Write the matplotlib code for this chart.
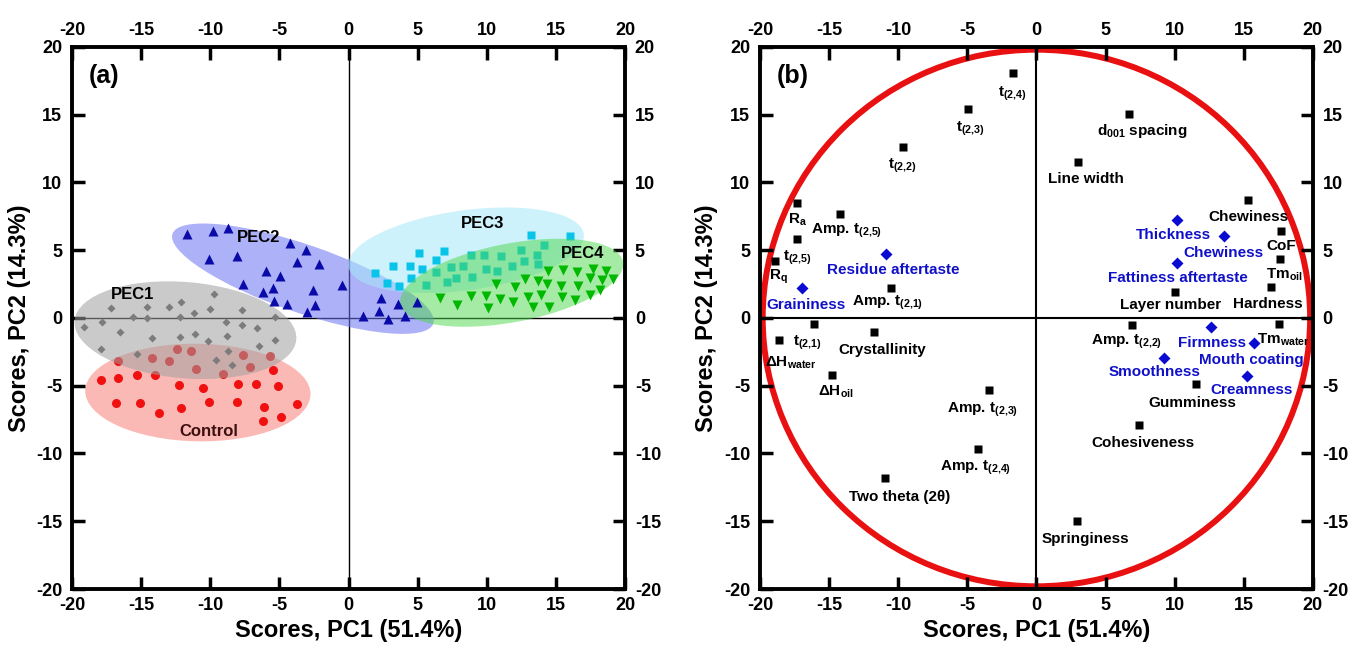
import matplotlib
matplotlib.use('Agg')
import matplotlib.pyplot as plt
from matplotlib.patches import Ellipse, Circle

# ---------------- data: panel (a) scores ----------------
ctrl_x = [-16.7, -14.2, -13.0, -12.4, -11.4, -11.0, -9.1, -7.6, -7.1, -5.65, -5.5,
          -17.9, -16.7, -15.3, -14.0, -12.3, -10.5, -8.0, -6.7, -5.1,
          -16.8, -15.1, -13.7, -12.1, -10.1, -8.1, -6.1, -3.75, -6.2, -4.85]
ctrl_y = [-3.16, -2.96, -3.14, -2.3, -2.43, -3.75, -4.12, -2.72, -3.65, -2.84, -3.87,
          -4.56, -4.44, -4.19, -4.24, -4.98, -5.17, -4.85, -4.85, -5.05,
          -6.27, -6.27, -7.0, -6.64, -6.23, -6.23, -6.57, -6.35, -7.57, -7.33]

pec1_x = [-17.16, -14.6, -13.0, -12.1, -9.7, -10.0, -11.2, -7.7, -15.6, -14.6, -12.2, -5.3,
          -19.1, -17.8, -8.9, -7.7, -6.6, -16.5, -14.2, -12.2, -11.1, -10.2, -8.8, -5.3,
          -6.5, -17.9, -15.3, -8.7, -9.6, -8.4]
pec1_y = [0.76, 0.83, 0.83, 1.15, 1.74, 0.66, 0.39, 0.59, 0.1, -0.02, 0.05, 0.05,
          -0.64, -0.27, -0.27, -0.51, -0.71, -1.0, -1.45, -1.42, -1.18, -1.69, -1.3, -1.62,
          -2.04, -2.28, -2.67, -2.43, -3.09, -3.46]

pec2_x = [-11.7, -9.8, -8.7, -4.24, -3.07, -10.1, -8.1, -3.75, -2.17, -6.0, -4.97, -7.6,
          -6.2, -5.5, -2.58, -0.46, -5.4, -4.44, -2.41, -2.97,
          2.34, 3.56, 4.97, 2.17, 1.07, 2.83, 4.1]
pec2_y = [6.23, 6.4, 6.67, 5.54, 5.05, 4.39, 4.56, 4.14, 3.95, 3.48, 3.09, 2.48,
          1.93, 2.23, 2.06, 2.43, 1.25, 1.0, 0.96, 0.42,
          1.45, 1.03, 1.2, 0.54, 0.15, -0.1, 0.15]

pec3_x = [5.07, 6.9, 6.3, 3.24, 4.41, 5.3, 1.92, 4.53, 2.76, 3.63, 13.2, 16.0,
          8.85, 9.78, 11.06, 12.45, 14.16, 13.6, 12.7, 13.7, 11.85, 10.75, 9.95, 8.31,
          7.4, 6.31, 8.92, 7.77, 7.09, 5.63]
pec3_y = [4.8, 4.93, 4.26, 3.82, 3.82, 3.58, 3.29, 2.92, 2.55, 2.35, 6.1, 6.03,
          4.68, 4.63, 4.58, 5.05, 5.37, 4.63, 4.19, 3.97, 3.82, 3.48, 3.65, 3.82,
          3.73, 3.4, 2.99, 2.92, 2.67, 2.43]

pec4_x = [14.46, 15.5, 16.55, 17.65, 18.6, 12.78, 13.67, 14.33, 15.38, 16.6, 17.45, 18.3,
          19.16, 10.68, 12.04, 18.19, 17.45, 16.36, 15.45, 13.92, 12.99, 11.9, 10.92, 9.97,
          8.85, 6.6, 7.82, 10.07, 13.36, 14.48]
pec4_y = [3.46, 3.53, 3.4, 3.58, 3.48, 2.85, 2.74, 2.48, 2.38, 2.35, 2.92, 2.79,
          2.85, 2.5, 2.3, 2.06, 1.69, 1.32, 1.52, 1.69, 1.57, 1.2, 1.37, 1.62,
          1.62, 1.49, 0.96, 0.71, 0.79, 0.83]

# confidence ellipses: (cx, cy, width, height, angle)
ell_ctrl = (-10.9, -5.5, 16.3, 7.2, -1)
ell_pec1 = (-11.8, -0.9, 16.1, 7.1, -5)
ell_pec2 = (-3.3, 2.9, 20.0, 5.0, -19.4)
ell_pec3 = (8.5, 5.0, 17.2, 5.9, 8)
ell_pec4 = (11.8, 2.6, 16.4, 5.8, 11)

# ---------------- data: panel (b) loadings ----------------
inst_names = [r'$t_{(2{,}4)}$', r'$t_{(2{,}3)}$', r'$t_{(2{,}2)}$', r'R$_a$',
              r'Amp. $t_{(2{,}5)}$', r'$t_{(2{,}5)}$', r'R$_q$', r'Amp. $t_{(2{,}1)}$',
              r'ΔH$_{water}$', r'$t_{(2{,}1)}$', 'Crystallinity', r'ΔH$_{oil}$',
              r'Amp. $t_{(2{,}3)}$', r'Amp. $t_{(2{,}4)}$', 'Two theta (2θ)', 'Springiness',
              'Line width', r'd$_{001}$ spacing', 'Chewiness', 'CoF', r'Tm$_{oil}$',
              'Hardness', 'Layer number', r'Amp. $t_{(2{,}2)}$', r'Tm$_{water}$',
              'Gumminess', 'Cohesiveness']
inst_x = [-1.72, -4.93, -9.64, -17.3, -14.2, -17.3, -18.9, -10.55, -18.6, -16.1,
          -11.76, -14.75, -3.42, -4.21, -10.96, 2.91, 3.02, 6.69,
          15.33, 17.69, 17.62, 16.97, 10.02, 6.93, 17.55, 11.52, 7.44]
inst_y = [18.1, 15.4, 12.6, 8.5, 7.65, 5.83, 4.2, 2.19, -1.62, -0.46,
          -1.05, -4.2, -5.31, -9.67, -11.83, -14.96, 11.49, 15.03,
          8.71, 6.42, 4.33, 2.27, 1.94, -0.52, -0.44, -4.87, -7.9]
# label offsets from marker, pixels (right, down)
inst_off = [(0, 21), (2, 20), (-1, 19), (0, 17), (6, 17), (0, 19), (3, 16), (-3, 15), (12, 23),
            (-6, 19), (8, 18), (3, 17), (-7, 20), (-3, 19), (15, 19), (9, 18), (8, 17),
            (13, 17), (0, 17), (0, 15), (4, 15), (-3, 17), (-4, 13), (-6, 17), (4, 16),
            (-3, 19), (4, 18)]

sens_names = ['Residue aftertaste', 'Graininess', 'Thickness', 'Chewiness',
              'Fattiness aftertaste', 'Firmness', 'Mouth coating', 'Smoothness', 'Creamness']
sens_x = [-10.91, -16.95, 10.14, 13.59, 10.14, 12.63, 15.74, 9.25, 15.25]
sens_y = [4.7, 2.19, 7.23, 6.05, 4.08, -0.64, -1.87, -2.93, -4.28]
sens_off = [(8, 16), (4, 17), (-3, 15), (-1, 17), (1, 15), (1, 16), (-3, 17), (-10, 14), (4, 14)]

# ---------------- fonts ----------------
fam = 'Liberation Sans'
plt.rcParams['font.family'] = [fam, 'DejaVu Sans']
plt.rcParams['font.weight'] = 'bold'
plt.rcParams['axes.labelweight'] = 'bold'
plt.rcParams['axes.unicode_minus'] = False
plt.rcParams['mathtext.fontset'] = 'custom'
plt.rcParams['mathtext.rm'] = fam + ':bold'
plt.rcParams['mathtext.it'] = fam + ':bold'
plt.rcParams['mathtext.bf'] = fam + ':bold'
plt.rcParams['mathtext.default'] = 'rm'

fig = plt.figure(figsize=(13.57, 6.57), dpi=100)
ax1 = fig.add_axes([0.0531, 0.1035, 0.4075, 0.825])
ax2 = fig.add_axes([0.560, 0.1035, 0.4075, 0.825])


def style_axes(ax):
    ax.set_xlim(-20, 20)
    ax.set_ylim(-20, 20)
    ax.set_xticks(range(-20, 21, 5))
    ax.set_yticks(range(-20, 21, 5))
    ax.tick_params(direction='in', top=True, right=True, labeltop=True, labelright=True,
                   length=9, width=2.5, labelsize=13, pad=6)
    ax.tick_params(axis='y', pad=7)
    for s in ax.spines.values():
        s.set_linewidth(2.8)
    ax.set_xlabel('Scores, PC1 (51.4%)', fontsize=17, labelpad=3)
    ax.set_ylabel('Scores, PC2 (14.3%)', fontsize=17, labelpad=4)


def add_ellipse(ax, e, color, alpha, z):
    ax.add_patch(Ellipse((e[0], e[1]), e[2], e[3], angle=e[4], facecolor=color,
                         edgecolor='none', alpha=alpha, zorder=z))


# ---------------- panel (a) ----------------
style_axes(ax1)
ax1.axhline(0, color='k', lw=1, zorder=0.5)
ax1.axvline(0, color='k', lw=1, zorder=0.5)

add_ellipse(ax1, ell_ctrl, '#f88078', 0.55, 1)
add_ellipse(ax1, ell_pec2, '#6a72f4', 0.55, 1)
add_ellipse(ax1, ell_pec3, '#a6e8fa', 0.55, 1)
ax1.plot(ctrl_x, ctrl_y, 'o', color='#f01010', ms=6.5, mec='none', zorder=2)
ax1.plot(pec3_x, pec3_y, 's', color='#08c4e8', ms=6, mec='none', zorder=2)
add_ellipse(ax1, ell_pec1, '#a0a0a0', 0.55, 3)
add_ellipse(ax1, ell_pec4, '#4cd84c', 0.5, 3)
ax1.plot(pec1_x, pec1_y, 'D', color='#7c7c7c', ms=4.2, mec='none', zorder=4)
ax1.plot(pec2_x, pec2_y, '^', color='#0a0aa8', ms=7, mec='none', zorder=4)
ax1.plot(pec4_x, pec4_y, 'v', color='#00b800', ms=7, mec='none', zorder=4)

ax1.text(-15.6, 1.77, 'PEC1', fontsize=12, ha='center', va='center', zorder=5)
ax1.text(-6.5, 5.96, 'PEC2', fontsize=12, ha='center', va='center', zorder=5)
ax1.text(9.7, 6.99, 'PEC3', fontsize=12, ha='center', va='center', zorder=5)
ax1.text(16.95, 4.78, 'PEC4', fontsize=12, ha='center', va='center', zorder=5)
ax1.text(-10.1, -8.39, 'Control', fontsize=12, ha='center', va='center',
         color='#3a1010', zorder=5)
ax1.text(0.03, 0.946, '(a)', transform=ax1.transAxes, fontsize=18,
         ha='left', va='center')

# ---------------- panel (b) ----------------
style_axes(ax2)
ax2.axhline(0, color='k', lw=1.5, zorder=0.5)
ax2.axvline(0, color='k', lw=1.5, zorder=0.5)
ax2.add_patch(Circle((0, 0), 19.8, fill=False, edgecolor='#e81010', lw=4.3, zorder=1))

ax2.plot(inst_x, inst_y, 's', color='k', ms=6.3, mec='none', zorder=3)
ax2.plot(sens_x, sens_y, 'D', color='#0a0ad0', ms=6.5, mec='none', zorder=3)

for name, x, y, off in zip(inst_names, inst_x, inst_y, inst_off):
    ax2.annotate(name, (x, y), xytext=(off[0], -off[1]), textcoords='offset pixels',
                 ha='center', va='center', fontsize=11, color='k', zorder=4)
for name, x, y, off in zip(sens_names, sens_x, sens_y, sens_off):
    ax2.annotate(name, (x, y), xytext=(off[0], -off[1]), textcoords='offset pixels',
                 ha='center', va='center', fontsize=11, color='#1010c8', zorder=4)
ax2.text(0.03, 0.946, '(b)', transform=ax2.transAxes, fontsize=18,
         ha='left', va='center')

fig.savefig('out.png', dpi=100)
